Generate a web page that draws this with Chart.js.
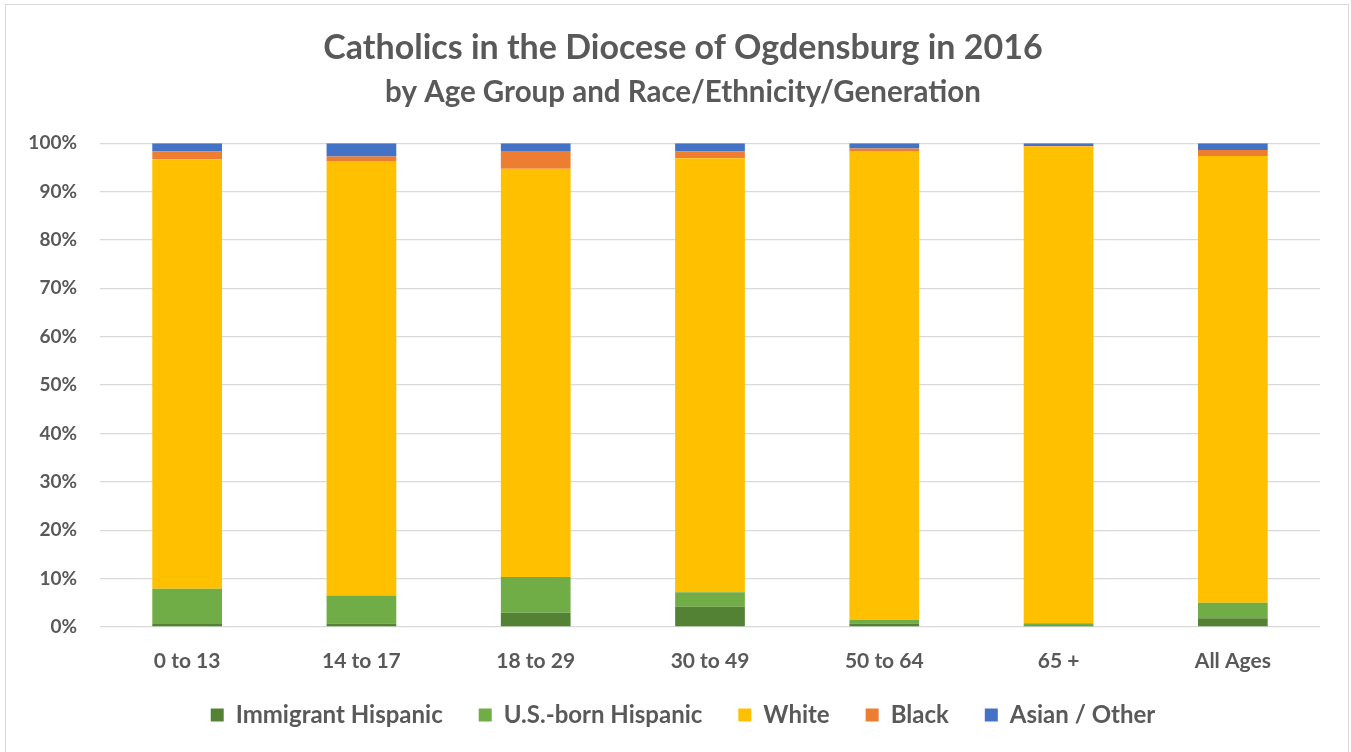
<!DOCTYPE html>
<html>
<head>
<meta charset="utf-8">
<script src="https://cdn.jsdelivr.net/npm/chart.js@4.4.0/dist/chart.umd.min.js"></script>
<style>
  html, body { margin: 0; padding: 0; background: #fff; overflow: hidden; }
  #frame { position: absolute; left: 5px; top: 4px; width: 1342px; height: 780px; border: 1px solid #d9d9d9; }
  #wrap { position: absolute; left: 0; top: 0; width: 1351px; height: 752px; }
</style>
</head>
<body>
<div id="frame"></div>
<div id="wrap"><canvas id="chart"></canvas></div>
<script>
// age groups along the x axis
const ageGroups = ['0 to 13', '14 to 17', '18 to 29', '30 to 49', '50 to 64', '65 +', 'All Ages'];

// shares in percent
const immigrantHispanic = [0.6, 0.7, 2.95, 4.2, 0.7, 0.35, 1.8];
const usBornHispanic    = [7.3, 5.8, 7.4, 3.0, 0.75, 0.4, 3.2];
const white             = [88.8, 89.8, 84.35, 89.7, 96.95, 98.55, 92.35];
const black             = [1.65, 0.95, 3.7, 1.45, 0.5, 0.1, 1.25];
const asianOther        = [1.65, 2.75, 1.6, 1.65, 1.1, 0.6, 1.4];

const yTicks = [0, 10, 20, 30, 40, 50, 60, 70, 80, 90, 100];

const FONT = 'Lato, Carlito, Calibri, "Open Sans", sans-serif';
const GREY = '#595959';

const ds = (label, data, color) => ({
    label: label,
    data: data,
    backgroundColor: color,
    borderWidth: 0,
    barPercentage: 0.8,
    categoryPercentage: 0.5
});

// the axes clip their labels to their own box; widen the boxes so nothing gets cut
const unclipLabels = {
    id: 'unclipLabels',
    afterLayout(chart) {
        chart.scales.y.left = 0;
        chart.scales.x.bottom = chart.height;
    }
};

new Chart(document.getElementById('chart').getContext('2d'), {
    type: 'bar',
    data: {
        labels: ageGroups,
        datasets: [
            ds('Immigrant Hispanic', immigrantHispanic, '#548235'),
            ds('U.S.-born Hispanic', usBornHispanic, '#70ad47'),
            ds('White', white, '#ffc000'),
            ds('Black', black, '#ed7d31'),
            ds('Asian / Other', asianOther, '#4472c4')
        ]
    },
    plugins: [unclipLabels],
    options: {
        responsive: true,
        maintainAspectRatio: false,
        animation: false,
        // left padding + narrow y axis keeps plot at x=100 but centres title/legend like the original
        layout: { padding: { left: 46, right: 31, top: 0, bottom: 15 } },
        plugins: {
            title: {
                display: true,
                text: 'Catholics in the Diocese of Ogdensburg in 2016',
                color: GREY,
                font: { family: FONT, size: 34, weight: 'bold' },
                padding: { top: 28, bottom: 6 }
            },
            subtitle: {
                display: true,
                text: 'by Age Group and Race/Ethnicity/Generation',
                color: GREY,
                font: { family: FONT, size: 29.5, weight: 'bold' },
                padding: { top: 0, bottom: 33 }
            },
            legend: {
                position: 'bottom',
                labels: {
                    color: GREY,
                    font: { family: FONT, size: 24, weight: 'bold' },
                    boxWidth: 13,
                    boxHeight: 13,
                    padding: 36
                }
            },
            tooltip: { enabled: false }
        },
        scales: {
            x: {
                stacked: true,
                grid: { display: false, drawTicks: false },
                border: { display: false },
                ticks: {
                    color: GREY,
                    font: { family: FONT, size: 21, weight: 'bold' },
                    padding: 22
                },
                afterFit: (s) => { s.height = 40; }
            },
            y: {
                stacked: true,
                min: 0,
                max: 100,
                afterBuildTicks: (s) => { s.ticks = yTicks.map(v => ({ value: v })); },
                grid: { color: '#d9d9d9', lineWidth: 1.3, drawTicks: false },
                border: { display: false },
                ticks: {
                    color: GREY,
                    font: { family: FONT, size: 19, weight: 'bold' },
                    padding: 23,
                    callback: (v) => v + '%'
                },
                afterFit: (s) => { s.width = 54; }
            }
        }
    }
});
</script>
</body>
</html>
